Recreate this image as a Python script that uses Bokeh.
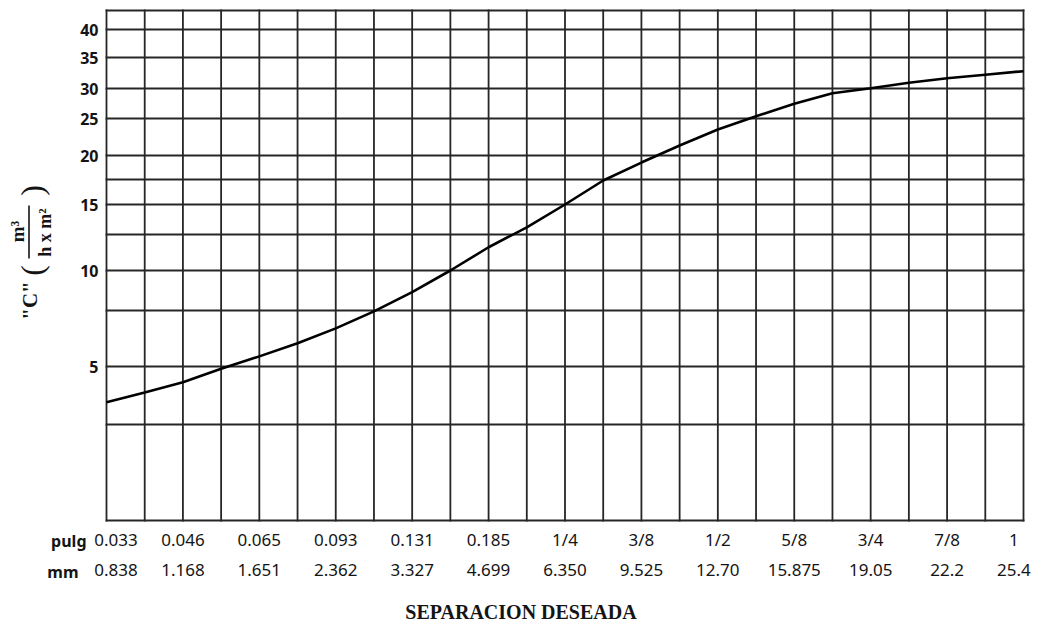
import numpy as np
from bokeh.plotting import figure
from bokeh.models import Range1d, LinearAxis, FixedTicker
from bokeh.core.properties import value
from bokeh.embed import file_html
from bokeh.resources import INLINE

# separation printed under every second vertical rule
PULG = ["0.033", "0.046", "0.065", "0.093", "0.131", "0.185", "1/4",
        "3/8", "1/2", "5/8", "3/4", "7/8", "1"]
MM = ["0.838", "1.168", "1.651", "2.362", "3.327", "4.699", "6.350",
      "9.525", "12.70", "15.875", "19.05", "22.2", "25.4"]

# coefficient "C" (m3 / h x m2) read on each of the 25 vertical rules, left to right
C_CURVE = [3.86, 4.14, 4.46, 4.92, 5.38, 5.92, 6.59, 7.45, 8.56, 10.0, 11.55,
           13.06, 15.0, 17.39, 19.23, 21.24, 23.4, 25.35, 27.33, 29.15, 30.05,
           30.86, 31.57, 32.13, 32.7]

# numbered values on the C scale
Y_LABELS = [5, 10, 15, 20, 25, 30, 35, 40]

# the printed C scale: value -> height above the bottom rule of the chart box
SCALE_C = [5, 7.5, 10, 12.5, 15, 17.5, 20, 25, 30, 35, 40]
SCALE_H = [154, 210, 250, 286, 316, 341, 365, 402, 432, 463, 491]
LOWER_RULE_H = [96]          # unnumbered rule under the 5 line
BOX_H = 510                  # height of the chart box
N_RULES = 24                 # rule spacings across the chart box

# page geometry: the chart box inside a 1041 x 628 page
W, H = 1041, 628
BOX_LEFT, BOX_RIGHT, BOX_BOTTOM = 106, 1023, 520
UNIT = (BOX_RIGHT - BOX_LEFT) / N_RULES

INK = "#262626"
TEXT = "#141414"


def c_to_h(c):
    lc = np.log10(np.asarray(c, dtype=float))
    ls = np.log10(SCALE_C)
    h = np.interp(lc, ls, SCALE_H)
    slope = (SCALE_H[1] - SCALE_H[0]) / (ls[1] - ls[0])
    return np.where(lc < ls[0], SCALE_H[0] + (lc - ls[0]) * slope, h)


def px(cx):
    """page x (pixels from the left) -> rule units"""
    return (cx - BOX_LEFT) / UNIT


def py(cy):
    """page y (pixels from the top) -> height above the bottom rule"""
    return BOX_BOTTOM - cy


# the plotting area covers the whole page, the chart box is drawn inside it
p = figure(width=W, height=H, output_backend="svg", toolbar_location=None,
           x_axis_type=None, y_axis_type=None,
           x_range=Range1d(px(0), px(W)), y_range=Range1d(py(H), py(0)),
           min_border=0, background_fill_color="white", border_fill_color="white")
p.outline_line_color = None

# ruling of the chart box (outer frame included)
v_rules = list(range(N_RULES + 1))
h_rules = [0] + sorted(LOWER_RULE_H + SCALE_H) + [BOX_H]
p.segment(x0=v_rules, y0=[0] * len(v_rules), x1=v_rules, y1=[BOX_H] * len(v_rules),
          line_color=INK, line_width=1.8, line_cap="square")
p.segment(x0=[0] * len(h_rules), y0=h_rules, x1=[N_RULES] * len(h_rules), y1=h_rules,
          line_color=INK, line_width=1.8, line_cap="square")

# curve
xs = np.arange(len(C_CURVE))
p.line(xs, c_to_h(C_CURVE), line_color="black", line_width=2.6)

# left axis with the numbered C values, fixed on the box edge
y_ticks = [round(float(v), 3) for v in c_to_h(Y_LABELS)]
yax = LinearAxis(fixed_location=0, ticker=FixedTicker(ticks=y_ticks),
                 major_label_overrides={t: str(v) for t, v in zip(y_ticks, Y_LABELS)})
yax.axis_line_color = None
yax.major_tick_line_color = None
yax.minor_tick_line_color = None
yax.major_tick_out = 0
yax.major_tick_in = 0
yax.major_label_standoff = 8
yax.major_label_text_font = "Noto Sans"
yax.major_label_text_font_size = "16px"
yax.major_label_text_font_style = "bold"
yax.major_label_text_color = TEXT
p.add_layout(yax, "left")

# two rows of separation labels under the box
label_x = [2.0 * i for i in range(len(PULG))]
label_x[0] = 0.25
label_x[-1] = N_RULES - 0.25


def sep_axis(texts, standoff):
    ax = LinearAxis(fixed_location=0, ticker=FixedTicker(ticks=label_x),
                    major_label_overrides={x: t for x, t in zip(label_x, texts)})
    ax.axis_line_color = None
    ax.major_tick_line_color = None
    ax.minor_tick_line_color = None
    ax.major_tick_out = 0
    ax.major_tick_in = 0
    ax.major_label_standoff = standoff
    ax.major_label_text_font = "Noto Sans"
    ax.major_label_text_font_size = "17px"
    ax.major_label_text_color = TEXT
    return ax


ax_pulg = sep_axis(PULG, 7)
ax_mm = sep_axis(MM, 43)
ax_mm.axis_label = "SEPARACION DESEADA"
ax_mm.axis_label_text_font = "Liberation Serif"
ax_mm.axis_label_text_font_style = "bold"
ax_mm.axis_label_text_font_size = "20px"
ax_mm.axis_label_text_color = TEXT
ax_mm.axis_label_standoff = 22
p.add_layout(ax_pulg, "below")
p.add_layout(ax_mm, "below")


def page_text(text, cx, cy, size, font="Noto Sans", style="bold",
              align="center", angle=0.0):
    p.text(x=[px(cx)], y=[py(cy)], text=[text], angle=angle,
           text_font=value(font), text_font_size=size, text_font_style=style,
           text_align=align, text_baseline="middle", text_color=TEXT)


# row headers for the separation labels
page_text("pulg", 86, 540, "16px", align="right")
page_text("mm", 78, 571, "16px", align="right")

# C axis title: "C" (m3 / h x m2), written upward
up = np.pi / 2
page_text('"C"', 29, 300, "21px", font="Liberation Serif", angle=up)
page_text("(", 31, 270, "32px", font="Liberation Serif", style="normal", angle=up)
page_text(")", 31, 190, "32px", font="Liberation Serif", style="normal", angle=up)
page_text("m³", 17, 231, "19px", font="Liberation Serif", angle=up)
page_text("h x m²", 44, 232, "18px", font="Liberation Serif", angle=up)
p.segment(x0=[px(28.5)], y0=[py(258)], x1=[px(28.5)], y1=[py(205)],
          line_color=TEXT, line_width=1.6)

open("out.html", "w").write(file_html(p, INLINE))
